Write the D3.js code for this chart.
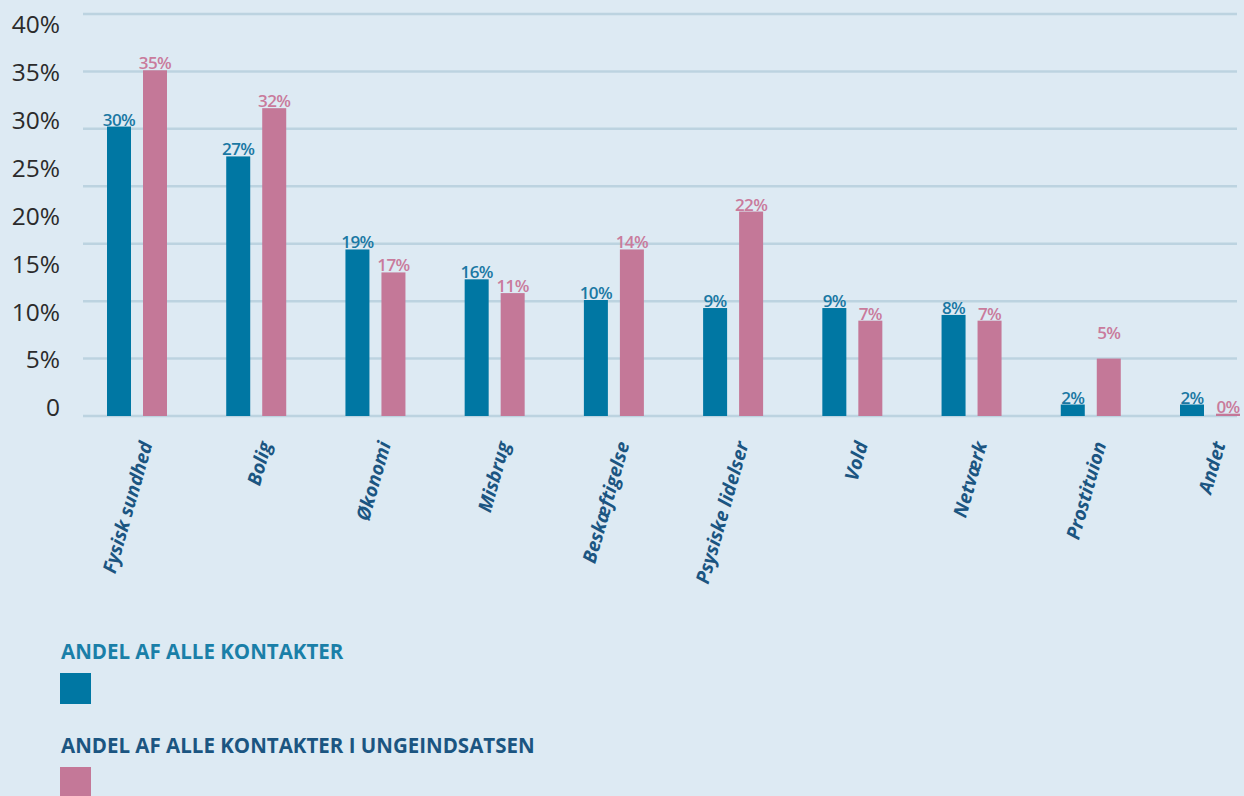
<!DOCTYPE html>
<html>
<head>
<meta charset="utf-8">
<script src="https://cdn.jsdelivr.net/npm/d3@7"></script>
<style>
    html, body { margin: 0; padding: 0; background: #ddeaf3; }
    svg { display: block; font-family: "Open Sans", "Noto Sans", sans-serif; }
</style>
</head>
<body>
<svg id="chart" width="1244" height="796"></svg>
<script>
// categories on the x axis
const categories = ["Fysisk sundhed", "Bolig", "Økonomi", "Misbrug", "Beskæftigelse",
    "Psysiske lidelser", "Vold", "Netværk", "Prostituion", "Andet"];

// bar heights as drawn, in grid units
const alleValues = [25.2, 22.6, 14.5, 11.9, 10.1, 9.4, 9.4, 8.8, 1.0, 1.0];
const ungeValues = [30.1, 26.8, 12.5, 10.7, 14.5, 17.8, 8.3, 8.3, 5.0, 0.2];

// printed value labels
const alleLabels = ["30%", "27%", "19%", "16%", "10%", "9%", "9%", "8%", "2%", "2%"];
const ungeLabels = ["35%", "32%", "17%", "11%", "14%", "22%", "7%", "7%", "5%", "0%"];

const gridValues = [0, 5, 10, 15, 20, 25, 30, 35];
const tickValues = [0, 5, 10, 15, 20, 25, 30, 35, 40];

const seriesNames = ["ANDEL AF ALLE KONTAKTER", "ANDEL AF ALLE KONTAKTER I UNGEINDSATSEN"];

const colorAlle = "#0077a3",
    colorUnge = "#c47898";

const svg = d3.select("#chart");

const x = d3.scalePoint()
    .domain(categories)
    .range([137, 1210]);

const y = d3.scaleLinear()
    .domain([0, 35])
    .range([416, 14]);

// tick labels sit on their own spacing in the original
const yLabel = d3.scaleLinear()
    .domain([0, 40])
    .range([408, 25]);

const barWidth = 24,
    barGap = 12;

// grid
svg.append("g")
    .selectAll("line")
    .data(gridValues)
    .enter()
    .append("line")
        .attr("x1", 83)
        .attr("x2", 1237)
        .attr("y1", d => y(d))
        .attr("y2", d => y(d))
        .attr("stroke", "#bcd3e0")
        .attr("stroke-width", 2.5);

// y axis labels
const yAxis = d3.axisLeft(yLabel)
    .tickValues(tickValues)
    .tickSize(0)
    .tickPadding(0)
    .tickFormat(d => d === 0 ? "0" : d + "%");

const yAxisGroup = svg.append("g")
    .attr("transform", "translate(60,0)")
    .call(yAxis);

yAxisGroup.select(".domain").remove();
yAxisGroup.selectAll("text")
    .attr("font-family", "'Open Sans', sans-serif")
    .attr("font-size", 24.5)
    .attr("fill", "#2b2b2b");

// bars
const groups = svg.append("g")
    .selectAll("g")
    .data(categories)
    .enter()
    .append("g")
        .attr("transform", d => "translate(" + x(d) + ",0)");

groups.append("rect")
    .attr("x", -barWidth - barGap / 2)
    .attr("width", barWidth)
    .attr("y", (d, i) => y(alleValues[i]))
    .attr("height", (d, i) => y(0) - y(alleValues[i]))
    .attr("fill", colorAlle);

groups.append("rect")
    .attr("x", barGap / 2)
    .attr("width", barWidth)
    .attr("y", (d, i) => y(ungeValues[i]))
    .attr("height", (d, i) => y(0) - y(ungeValues[i]))
    .attr("fill", colorUnge);

groups.append("text")
    .attr("x", -barWidth / 2 - barGap / 2)
    .attr("y", (d, i) => y(alleValues[i]) - 1)
    .attr("text-anchor", "middle")
    .attr("font-size", 17)
    .attr("font-weight", 600)
    .attr("letter-spacing", -0.6)
    .attr("fill", "#1a78a3")
    .text((d, i) => alleLabels[i]);

groups.append("text")
    .attr("x", barWidth / 2 + barGap / 2)
    .attr("y", (d, i) => y(ungeValues[i]) - (i === 8 ? 20 : 1))
    .attr("text-anchor", "middle")
    .attr("font-size", 17)
    .attr("font-weight", 600)
    .attr("letter-spacing", -0.6)
    .attr("fill", "#c97b9c")
    .text((d, i) => ungeLabels[i]);

// category labels
groups.append("text")
    .attr("transform", "translate(2,440) rotate(-74)")
    .attr("text-anchor", "end")
    .attr("dy", "0.75em")
    .attr("font-size", 19)
    .attr("font-weight", 700)
    .attr("font-style", "italic")
    .attr("fill", "#1b5581")
    .text(d => d);

// legend
const legend = svg.append("g")
    .selectAll("g")
    .data(seriesNames)
    .enter()
    .append("g")
        .attr("transform", (d, i) => "translate(60," + (659 + i * 94) + ")");

legend.append("text")
    .attr("x", 1)
    .attr("font-size", 20.5)
    .attr("font-weight", 700)
    .attr("fill", (d, i) => i === 0 ? "#1a7fa8" : "#1b5581")
    .text(d => d);

legend.append("rect")
    .attr("y", 14)
    .attr("width", 31)
    .attr("height", 31)
    .attr("fill", (d, i) => i === 0 ? colorAlle : colorUnge);
</script>
</body>
</html>
